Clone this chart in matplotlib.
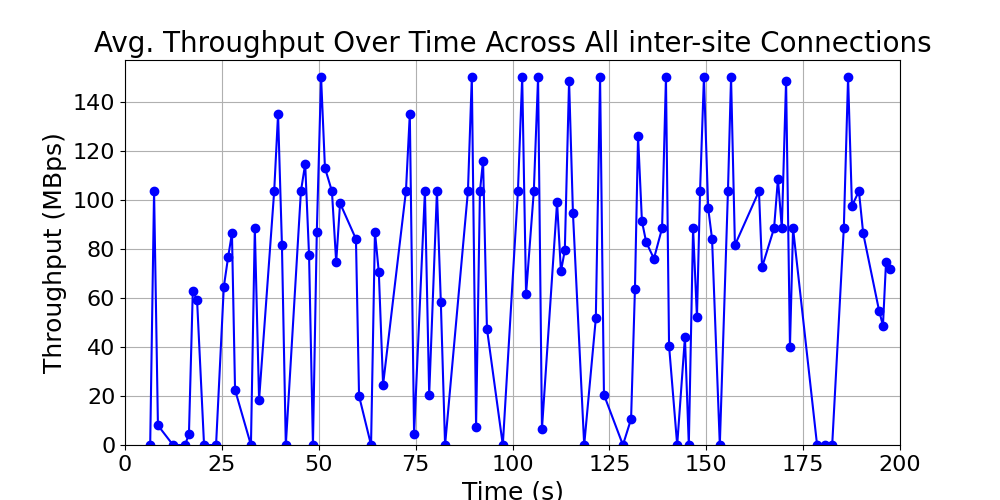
import matplotlib
matplotlib.use("Agg")
import matplotlib.pyplot as plt

time_s = [6.5, 7.5, 8.5, 12.4, 15.5, 16.5, 17.5, 18.6, 20.4, 23.5, 25.5, 26.6, 27.6, 28.4,
          32.5, 33.5, 34.6, 38.5, 39.5, 40.5, 41.5, 45.4, 46.5, 47.5, 48.5, 49.5, 50.6, 51.6,
          53.4, 54.5, 55.5, 59.6, 60.4, 63.5, 64.5, 65.5, 66.6, 72.5, 73.5, 74.6, 77.4, 78.5,
          80.5, 81.5, 82.6, 88.5, 89.5, 90.6, 91.6, 92.4, 93.4, 97.5, 101.4, 102.5, 103.5,
          105.5, 106.6, 107.6, 111.5, 112.5, 113.5, 114.6, 115.6, 118.5, 121.5, 122.6, 123.6,
          128.5, 130.6, 131.6, 132.4, 133.4, 134.5, 136.5, 138.6, 139.6, 140.4, 142.5, 144.5,
          145.5, 146.6, 147.6, 148.4, 149.4, 150.5, 151.5, 153.5, 155.6, 156.4, 157.4, 163.6,
          164.4, 167.5, 168.5, 169.5, 170.6, 171.6, 172.4, 178.6, 180.6, 182.5, 185.5, 186.6,
          187.6, 189.4, 190.5, 194.6, 195.6, 196.4, 197.4]
throughput = [0, 103.5, 8, 0, 0, 4.5, 63, 59, 0, 0, 64.5, 76.5, 86.3, 22.5,
              0, 88.4, 18.4, 103.5, 135, 81.5, 0, 103.5, 114.6, 77.3, 0, 87, 150, 113,
              103.5, 74.5, 98.6, 84, 20, 0, 87, 70.4, 24.6, 103.5, 135, 4.5, 103.5, 20.5,
              103.5, 58.5, 0, 103.5, 150, 7.4, 103.5, 116, 47.5, 0, 103.5, 150, 61.5,
              103.5, 150, 6.5, 99, 70.8, 79.4, 148.6, 94.5, 0, 51.6, 150, 20.5,
              0, 10.6, 63.8, 126, 91.3, 82.7, 76, 88.4, 150, 40.5, 0, 44,
              0, 88.4, 52, 103.5, 150, 96.6, 84, 0, 103.5, 150, 81.5, 103.5,
              72.5, 88.4, 108.5, 88.4, 148.6, 40, 88.4, 0, 0, 0, 88.4, 150,
              97.5, 103.5, 86.3, 54.8, 48.7, 74.8, 71.6]

fig, ax = plt.subplots(figsize=(10, 5), dpi=100)
ax.plot(time_s, throughput, color="blue", marker="o", markersize=6, linewidth=1.5)
ax.set_xlim(0, 200)
ax.set_ylim(0, 157)
ax.set_title("Avg. Throughput Over Time Across All inter-site Connections", fontsize=20)
ax.set_xlabel("Time (s)", fontsize=18)
ax.set_ylabel("Throughput (MBps)", fontsize=18)
ax.tick_params(labelsize=16)
ax.grid(True)
plt.savefig("out.png")
